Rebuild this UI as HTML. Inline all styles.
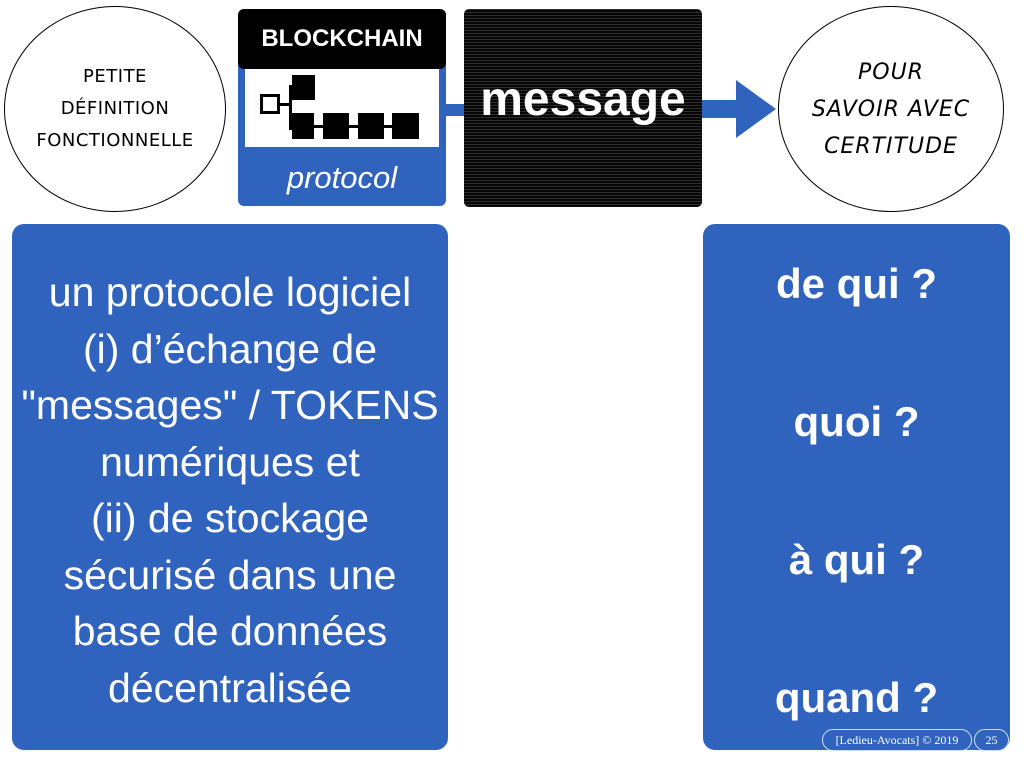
<!DOCTYPE html>
<html><head><meta charset="utf-8"><style>
body{margin:0;width:1024px;height:768px;background:#fff;position:relative;overflow:hidden;font-family:"Liberation Sans","DejaVu Sans",sans-serif}
.a{position:absolute}
.circ{border:1.5px solid #000;border-radius:50%;display:flex;align-items:center;justify-content:center;text-align:center;font-family:"DejaVu Sans",sans-serif;text-transform:uppercase;letter-spacing:1px}
.blue{background:#2f63bd;color:#fff;border-radius:12px}
.sq{position:absolute;background:#000}
</style></head><body>
<div class="a circ" style="left:4px;top:6px;width:220px;height:204px;font-size:18px;line-height:32px;letter-spacing:0.5px">petite<br>définition<br>fonctionnelle</div>
<div class="a circ" style="left:778px;top:6px;width:224px;height:204px;font-size:22px;line-height:37px;font-style:italic;letter-spacing:1px">pour<br>savoir avec<br>certitude</div>

<div class="a" style="left:238px;top:9px;width:208px;height:197px;background:#2f63bd;border-radius:6px"></div>
<div class="a" style="left:238px;top:9px;width:208px;height:60px;background:#000;border-radius:6px;color:#fff;font-weight:bold;font-size:24px;text-align:center;line-height:60px">BLOCKCHAIN</div>
<div class="a" style="left:245px;top:69px;width:194px;height:78px;background:#fff"></div>
<div class="a" style="left:238px;top:147px;width:208px;height:59px;color:#fff;font-style:italic;font-size:31px;text-align:center;line-height:62px">protocol</div>
<div class="a" style="left:260px;top:94px;width:20px;height:20px;border:3px solid #000;box-sizing:border-box"></div>
<div class="a" style="left:280px;top:103px;width:12px;height:3px;background:#000"></div>
<div class="a" style="left:289px;top:85px;width:3px;height:45px;background:#000"></div>
<div class="sq" style="left:292px;top:75px;width:23px;height:25px"></div>
<div class="sq" style="left:292px;top:113px;width:22px;height:26px"></div>
<div class="sq" style="left:323px;top:113px;width:26px;height:26px"></div>
<div class="sq" style="left:358px;top:113px;width:26px;height:26px"></div>
<div class="sq" style="left:392px;top:113px;width:27px;height:26px"></div>
<div class="a" style="left:312px;top:125px;width:84px;height:3px;background:#000"></div>

<div class="a" style="left:446px;top:104px;width:20px;height:12px;background:#2f63bd"></div>
<div class="a" style="left:464px;top:9px;width:238px;height:198px;background:#0c0c0c;border-radius:5px;background-image:repeating-linear-gradient(0deg,#0c0c0c 0 2px,#555 2px 3px),repeating-linear-gradient(90deg,transparent 0 2px,#0c0c0c 2px 3px)"></div>
<div class="a" style="left:464px;top:9px;width:238px;height:198px;background:rgba(0,0,0,0.45);border-radius:5px"></div>
<div class="a" style="left:464px;top:70px;width:238px;text-align:center;color:#fff;font-weight:bold;font-size:48px;line-height:60px">message</div>
<div class="a" style="left:702px;top:100px;width:36px;height:18px;background:#2f63bd"></div>
<div class="a" style="left:736px;top:80px;width:0;height:0;border-top:29px solid transparent;border-bottom:29px solid transparent;border-left:40px solid #2f63bd"></div>

<div class="a blue" style="left:12px;top:224px;width:436px;height:526px"></div>
<div class="a" style="left:0px;top:264px;width:460px;text-align:center;font-size:41px;line-height:56.5px;color:#fff">un protocole logiciel<br>(i) d’échange de<br>"messages" / TOKENS<br>numériques et<br>(ii) de stockage<br>sécurisé dans une<br>base de données<br>décentralisée</div>

<div class="a blue" style="left:703px;top:224px;width:307px;height:526px"></div>
<div class="a" style="left:703px;top:215px;width:307px;text-align:center;color:#fff;font-weight:bold;font-size:42px;line-height:138px">de qui ?<br>quoi ?<br>à qui ?<br>quand ?</div>

<div class="a" style="left:822px;top:729px;width:148px;height:20px;border:1.5px solid #cfe0ff;border-radius:11px;color:#fff;font-family:'Liberation Serif',serif;font-size:12px;text-align:center;line-height:20px;background:#2f63bd">[Ledieu-Avocats] © 2019</div>
<div class="a" style="left:974px;top:729px;width:33px;height:20px;border:1.5px solid #cfe0ff;border-radius:11px;color:#fff;font-family:'Liberation Serif',serif;font-size:12px;text-align:center;line-height:20px;background:#2f63bd">25</div>
</body></html>
